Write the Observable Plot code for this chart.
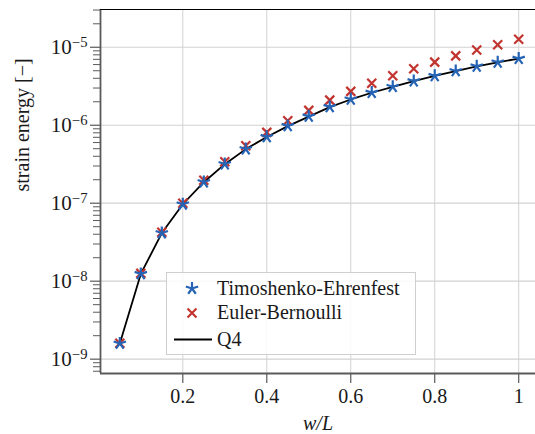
<!DOCTYPE html>
<html>
<head>
<meta charset="utf-8">
<script src="https://cdn.jsdelivr.net/npm/d3@7"></script>
<script src="https://cdn.jsdelivr.net/npm/@observablehq/plot@0.6"></script>
<style>
  html, body { margin: 0; padding: 0; background: #fff; }
  #chart svg { display: block; }
</style>
</head>
<body>
<div id="chart"></div>
<script>
// ---- data ----
const ratio = [0.05, 0.10, 0.15, 0.20, 0.25, 0.30, 0.35, 0.40, 0.45, 0.50,
               0.55, 0.60, 0.65, 0.70, 0.75, 0.80, 0.85, 0.90, 0.95, 1.00];
const timoshenko = [1.59e-9, 1.24e-8, 4.15e-8, 9.7e-8, 1.87e-7, 3.18e-7, 4.95e-7, 7.1e-7, 9.8e-7, 1.30e-6,
                    1.72e-6, 2.15e-6, 2.62e-6, 3.12e-6, 3.68e-6, 4.30e-6, 4.97e-6, 5.70e-6, 6.42e-6, 7.15e-6];
const euler = [1.60e-9, 1.26e-8, 4.25e-8, 1.0e-7, 1.97e-7, 3.40e-7, 5.45e-7, 8.1e-7, 1.14e-6, 1.55e-6,
               2.10e-6, 2.72e-6, 3.45e-6, 4.30e-6, 5.30e-6, 6.45e-6, 7.75e-6, 9.20e-6, 1.08e-5, 1.27e-5];
const q4 = [1.59e-9, 1.24e-8, 4.14e-8, 9.7e-8, 1.86e-7, 3.17e-7, 4.94e-7, 7.08e-7, 9.75e-7, 1.29e-6,
            1.71e-6, 2.14e-6, 2.61e-6, 3.11e-6, 3.67e-6, 4.29e-6, 4.96e-6, 5.69e-6, 6.41e-6, 7.14e-6];
const seriesNames = ["Timoshenko-Ehrenfest", "Euler-Bernoulli", "Q4"];
const xTicks = [0.2, 0.4, 0.6, 0.8, 1];
const yTicks = [1e-9, 1e-8, 1e-7, 1e-6, 1e-5];
const yLabel = "strain energy [−]";
const xLabel = "w/L";

// ---- style ----
const FONT = "'Liberation Serif', 'DejaVu Serif', serif";
const FS = 20;
const BLUE = "#2563b5";
const RED = "#c2342f";
const GRID = "#d2d2d2";
const AXIS = "#5a5a5a";

const xDomain = [0.004, 1.04];
const yDomain = [6.55e-10, 3.05e-5];

const yMinor = [];
for (let e = -10; e <= -5; e++) for (let m = 2; m <= 9; m++) {
  const v = m * Math.pow(10, e);
  if (v >= yDomain[0] && v <= yDomain[1]) yMinor.push(v);
}

// 5-ray star (pgfplots "star")
const star5 = {
  draw(ctx, size) {
    const r = Math.sqrt(size / Math.PI);
    for (let k = 0; k < 5; k++) {
      const a = -Math.PI / 2 + k * 2 * Math.PI / 5;
      ctx.moveTo(0, 0);
      ctx.lineTo(r * Math.cos(a), r * Math.sin(a));
    }
  }
};
const cross = {
  draw(ctx, size) {
    const r = Math.sqrt(size / Math.PI) * 0.75;
    ctx.moveTo(-r, -r); ctx.lineTo(r, r);
    ctx.moveTo(-r, r); ctx.lineTo(r, -r);
  }
};

const rows = ratio.map((x, i) => ({x, te: timoshenko[i], eb: euler[i], q4: q4[i]}));

const chart = Plot.plot({
  width: 535,
  height: 434,
  marginLeft: 100,
  marginRight: 0,
  marginTop: 9,
  marginBottom: 61,
  style: {fontFamily: FONT, fontSize: FS + "px", color: "#1a1a1a", background: "#fff", overflow: "visible"},
  x: {domain: xDomain, ticks: xTicks, axis: null},
  y: {type: "log", domain: yDomain, axis: null},
  marks: [
    Plot.ruleX(xTicks, {stroke: GRID, strokeWidth: 1}),
    Plot.ruleY(yTicks, {stroke: GRID, strokeWidth: 1.2}),
    Plot.axisX(xTicks, {tickSize: 10, tickPadding: 5, stroke: AXIS, strokeWidth: 1.2,
      tickFormat: d => String(d), fontSize: FS, label: null}),
    Plot.axisY(yMinor, {tickSize: 7, stroke: AXIS, strokeWidth: 1, tickFormat: () => "", label: null}),
    Plot.axisY(yTicks, {tickSize: 10, tickPadding: 3, stroke: AXIS, strokeWidth: 1.2,
      tickFormat: d => "10^" + Math.round(Math.log10(d)), fontSize: FS + 1, label: null}),
    Plot.ruleX([xDomain[0]], {stroke: AXIS, strokeWidth: 1.8}),
    Plot.ruleY([yDomain[0]], {stroke: AXIS, strokeWidth: 1.8}),
    Plot.ruleY([yDomain[1]], {stroke: "#000", strokeWidth: 1.2}),
    Plot.line(rows, {x: "x", y: "q4", stroke: "#000", strokeWidth: 1.8}),
    Plot.dot(rows, {x: "x", y: "eb", symbol: cross, r: 6, stroke: RED, strokeWidth: 2.2, fill: "none"}),
    Plot.dot(rows, {x: "x", y: "te", symbol: star5, r: 6.5, stroke: BLUE, strokeWidth: 2.2, fill: "none"}),
    Plot.text([yLabel], {frameAnchor: "left", dx: -78, rotate: -90, fontSize: FS, fill: "#1a1a1a"}),
    Plot.text([xLabel], {frameAnchor: "bottom", dy: 56, fontSize: FS, fontStyle: "italic", fill: "#1a1a1a"})
  ]
});

document.getElementById("chart").appendChild(chart);

// superscripts in y tick labels
const svg = d3.select(chart);
svg.selectAll("text").each(function() {
  const t = d3.select(this);
  const s = t.text();
  const m = /^10\^(-?\d+)$/.exec(s);
  if (m) {
    t.text("10");
    t.append("tspan").attr("dy", "-0.45em").attr("font-size", "0.7em")
      .text(m[1].replace("-", "−"));
  }
});

// legend box
const lg = svg.append("g").attr("font-family", FONT).attr("font-size", FS).attr("text-anchor", "start");
lg.append("rect").attr("x", 166.5).attr("y", 272.5).attr("width", 249).attr("height", 82)
  .attr("fill", "#fff").attr("fill-opacity", 0.85).attr("stroke", "#cfcfcf").attr("stroke-width", 1);
const items = [
  {name: seriesNames[0], kind: "star", y: 288.5},
  {name: seriesNames[1], kind: "cross", y: 313},
  {name: seriesNames[2], kind: "line", y: 339.5}
];
items.forEach(it => {
  if (it.kind === "line") {
    lg.append("line").attr("x1", 174).attr("x2", 212).attr("y1", it.y).attr("y2", it.y)
      .attr("stroke", "#000").attr("stroke-width", 1.8);
  } else {
    const sym = it.kind === "star" ? star5 : cross;
    const size = Math.PI * (it.kind === "star" ? 6.5 : 6) ** 2;
    lg.append("path").attr("d", d3.symbol(sym, size)())
      .attr("transform", `translate(192,${it.y})`)
      .attr("fill", "none").attr("stroke", it.kind === "star" ? BLUE : RED).attr("stroke-width", 2.2);
  }
  lg.append("text").attr("x", 217).attr("y", it.y).attr("dy", "0.32em")
    .attr("text-anchor", "start").attr("fill", "#1a1a1a").text(it.name);
});
</script>
</body>
</html>
